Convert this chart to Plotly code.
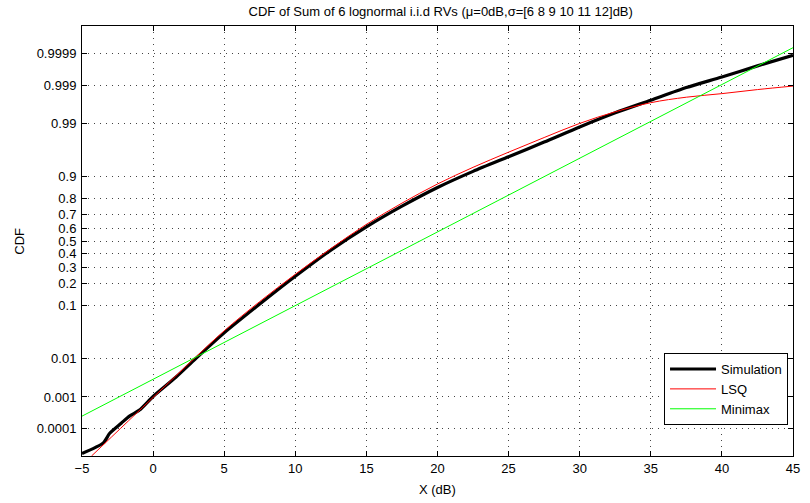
from statistics import NormalDist
import plotly.graph_objects as go

nd = NormalDist()


def probit(ps):
    return [nd.inv_cdf(p) for p in ps]


# ---- data ----
x_sim = [-5, -3.5, -3.05, -2.24, -1.66, -0.96, 0, 1.6, 3, 5, 7.5, 10, 12.5,
         15, 17.5, 20, 22.5, 25, 27.5, 30, 32.5, 35, 37.5, 40, 42.5, 45]
cdf_sim = [1.276e-5, 3.17e-5, 6.95e-5, 1.531e-4, 2.60e-4, 4.04e-4, 1.035e-3,
           3.467e-3, 9.90e-3, 0.03438, 0.10565, 0.24196, 0.42858, 0.61026,
           0.75490, 0.85543, 0.91621, 0.95254, 0.97500, 0.98809, 0.99446,
           0.99736, 0.99882, 0.999423, 0.999740, 0.999883]

x_lsq = [-4.33, 0, 3, 5, 7.5, 10, 12.5, 15, 17.5, 20, 22.5, 25, 27.5, 30,
         32.5, 35, 37.5, 40, 42.5, 45]
cdf_lsq = [1.02e-5, 9.68e-4, 0.010724, 0.03754, 0.11507, 0.25463, 0.44038,
           0.62930, 0.77337, 0.87076, 0.92785, 0.96080, 0.97982, 0.99010,
           0.99477, 0.99693, 0.99781, 0.99825, 0.99865, 0.99893]

x_mm = [-5, 3, 20, 45]
cdf_mm = [2.60e-4, 0.0107, 0.571, 0.999936]

ytick_probs = [0.0001, 0.001, 0.01, 0.1, 0.2, 0.3, 0.4, 0.5, 0.6, 0.7, 0.8,
               0.9, 0.99, 0.999, 0.9999]
ytick_labels = ["0.0001", "0.001", "0.01", "0.1", "0.2", "0.3", "0.4", "0.5",
                "0.6", "0.7", "0.8", "0.9", "0.99", "0.999", "0.9999"]
xtick_vals = [-5, 0, 5, 10, 15, 20, 25, 30, 35, 40, 45]

title_text = "CDF of Sum of 6 lognormal i.i.d RVs (\u03bc=0dB,\u03c3=[6 8 9 10 11 12]dB)"

FONT = "Liberation Sans, Arial, sans-serif"

fig = go.Figure()
fig.add_trace(go.Scatter(x=x_sim, y=probit(cdf_sim), mode="lines",
                         name="Simulation",
                         line=dict(color="black", width=3.2, shape="spline",
                                   smoothing=0.7)))
fig.add_trace(go.Scatter(x=x_lsq, y=probit(cdf_lsq), mode="lines",
                         name="LSQ",
                         line=dict(color="#ff0000", width=1, shape="spline",
                                   smoothing=1.0)))
fig.add_trace(go.Scatter(x=x_mm, y=probit(cdf_mm), mode="lines",
                         name="Minimax", line=dict(color="#00ff00", width=1)))

axis_common = dict(
    showline=True, linecolor="black", linewidth=1, mirror="ticks",
    ticks="inside", ticklen=5, tickcolor="black", tickwidth=1,
    showgrid=True, gridcolor="#444444", gridwidth=1, griddash="1px,5px",
    zeroline=False, tickfont=dict(family=FONT, size=13, color="black"),
)

fig.update_xaxes(range=[-5, 45], tickvals=xtick_vals, **axis_common)
fig.update_yaxes(range=[-4.26, 4.26], tickvals=probit(ytick_probs),
                 ticktext=ytick_labels, ticklabelstandoff=2, **axis_common)

fig.update_layout(
    width=810, height=503,
    margin=dict(l=82, r=10, t=26, b=47),
    paper_bgcolor="white", plot_bgcolor="white",
    font=dict(family=FONT, size=13, color="black"),
    title=dict(text=title_text, x=0.5441, xanchor="center", y=0.978,
               yanchor="middle", font=dict(family=FONT, size=13, color="black")),
    showlegend=True,
    legend=dict(x=0.993, y=0.072, xanchor="right", yanchor="bottom",
                bgcolor="white", bordercolor="black", borderwidth=1,
                itemwidth=46,
                font=dict(family=FONT, size=13, color="black"),
                tracegroupgap=0),
    annotations=[
        dict(text="X (dB)", xref="paper", yref="paper", x=0.5, y=-0.079,
             xanchor="center", yanchor="middle", showarrow=False,
             font=dict(family=FONT, size=13, color="black")),
        dict(text="CDF", xref="paper", yref="paper", x=-0.089, y=0.5,
             xanchor="center", yanchor="middle", showarrow=False,
             textangle=-90,
             font=dict(family=FONT, size=13, color="black")),
    ],
)

fig.write_html("out.html")
